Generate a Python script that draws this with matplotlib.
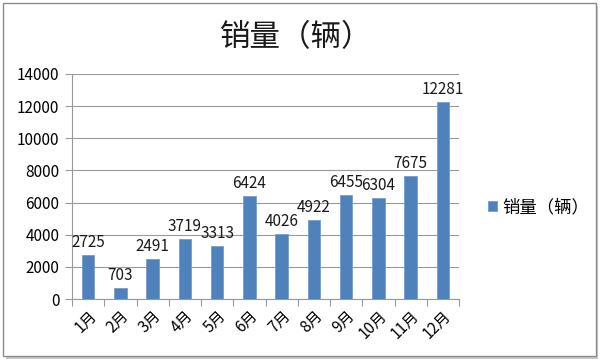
import matplotlib
matplotlib.use('Agg')
import matplotlib.pyplot as plt
import matplotlib.patches as patches
import numpy as np

plt.rcParams['font.family'] = ['Noto Sans CJK SC', 'DejaVu Sans']

months = ['1月', '2月', '3月', '4月', '5月', '6月', '7月', '8月', '9月', '10月', '11月', '12月']
sales = [2725, 703, 2491, 3719, 3313, 6424, 4026, 4922, 6455, 6304, 7675, 12281]
series_name = '销量（辆）'
bar_color = '#4F81BD'

W, H = 600, 361
fig = plt.figure(figsize=(W / 100, H / 100), dpi=100)

# chart area border with a soft shadow, Excel style
def px_rect(x0, y0, x1, y1, **kw):
    return patches.Rectangle((x0 / W, 1 - y1 / H), (x1 - x0) / W, (y1 - y0) / H,
                             transform=fig.transFigure, **kw)

fig.patches.append(px_rect(6, 6, 598, 359, facecolor='#c8c8c8', edgecolor='none', zorder=-2))
fig.patches.append(px_rect(3, 3, 596, 356, facecolor='white', edgecolor='#8c8c8c', linewidth=1, zorder=-1))

ax = fig.add_axes([72 / W, 1 - 299 / H, (459 - 72) / W, (299 - 74) / H])
ax.set_facecolor('none')

x = np.arange(len(months))
bars = ax.bar(x, sales, width=0.38, color=bar_color, edgecolor='#7a9cc9', linewidth=0.6,
              label=series_name, zorder=3)

for xi, v in zip(x, sales):
    ax.text(xi, v + 250, str(v), ha='center', va='bottom', fontsize=11, color='#1a1a1a', zorder=4)

ax.set_xlim(-0.5, len(months) - 0.5)
ax.set_ylim(0, 14000)
ax.set_yticks(np.arange(0, 14001, 2000))
ax.set_yticklabels([str(t) for t in range(0, 14001, 2000)], fontsize=11)
ax.yaxis.grid(True, color='#999999', linewidth=0.8, zorder=0)

# category ticks at boundaries, labels at centres
ax.set_xticks(np.arange(-0.5, len(months), 1.0))
ax.set_xticklabels([])
ax.set_xticks(x, minor=True)
ax.set_xticklabels(months, minor=True, rotation=45, ha='right', rotation_mode='anchor', fontsize=11)
ax.tick_params(axis='x', which='minor', length=0, pad=6)
ax.tick_params(axis='x', which='major', length=5, color='#999999', direction='out')
ax.tick_params(axis='y', length=5, color='#999999', direction='out', pad=4)

for side in ['top', 'right']:
    ax.spines[side].set_visible(False)
ax.spines['left'].set_color('#999999')
ax.spines['bottom'].set_color('#999999')

fig.text(296 / W, 1 - 38 / H, series_name, ha='center', va='center', fontsize=22, color='#1a1a1a')

fig.legend(handles=[bars], labels=[series_name], loc='center left',
           bbox_to_anchor=(472 / W, 1 - 207 / H), frameon=False, fontsize=12.5,
           handlelength=0.55, handleheight=0.55, handletextpad=0.3)

fig.savefig('out.png', dpi=100)
